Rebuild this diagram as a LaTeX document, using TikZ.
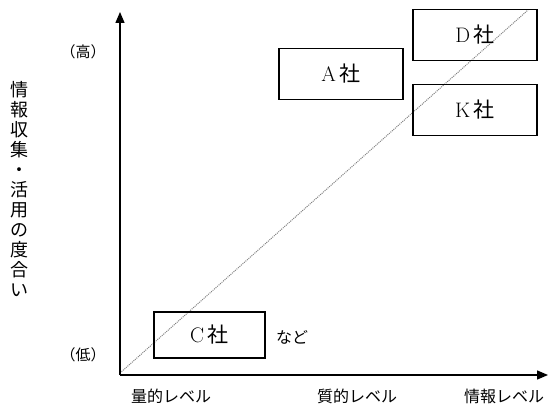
\documentclass[tikz,border=0pt]{standalone}
\usepackage{fontspec}
\newfontfamily\cjk{Noto Sans CJK JP}
\usetikzlibrary{arrows.meta}
\begin{document}
\begin{tikzpicture}[x=1pt,y=-1pt,
  comp/.style={draw,line width=1.1pt,minimum width=124pt,minimum height=51pt,font=\fontsize{21}{21}\selectfont,inner sep=0pt},
  axlab/.style={font=\cjk\fontsize{16}{16}\selectfont,inner sep=0pt},
  axis/.style={line width=1.3pt,-{Triangle[length=11pt,width=9pt]}}]
\useasboundingbox (0,0) rectangle (549,406);
\coordinate (o) at (120,375);
\coordinate (ytop) at (120,12);
\coordinate (xend) at (548,375);
\coordinate (dstart) at (120,373);
\coordinate (dend) at (528,10);
\draw[gray,densely dotted,line width=1pt] (dstart) -- (dend);
\draw[axis] (o) -- (ytop);
\draw[axis] (o) -- (xend);
\node[comp] (A) at (341,74) {A\,{\cjk 社}};
\node[comp] (D) at (475,35) {D\,{\cjk 社}};
\node[comp] (K) at (475,110) {K\,{\cjk 社}};
\node[comp,minimum width=111pt,minimum height=46pt] (C) at (209.5,335) {C\,{\cjk 社}};
\node[axlab,anchor=west] (nado) at (276,337) {など};
\node[axlab,font=\cjk\fontsize{15}{15}\selectfont] (hi) at (83,52) {（高）};
\node[axlab,font=\cjk\fontsize{15}{15}\selectfont] (lo) at (83,355) {（低）};
\node[axlab] (q1) at (171,396) {量的レベル};
\node[axlab] (q2) at (357,396) {質的レベル};
\node[axlab] (q3) at (504,396) {情報レベル};
\node[font=\cjk\fontsize{18}{20}\selectfont,align=center,inner sep=0pt] (v) at (19,189)
 {情\\報\\収\\集\\・\\活\\用\\の\\度\\合\\い};
\end{tikzpicture}
\end{document}
